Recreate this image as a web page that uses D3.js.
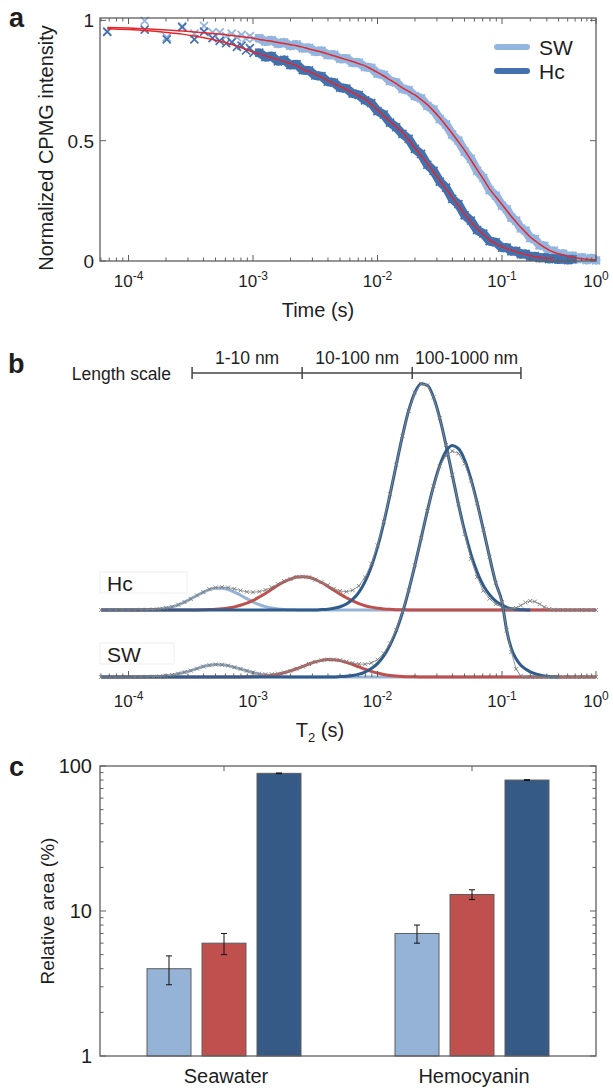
<!DOCTYPE html>
<html><head><meta charset="utf-8">
<script src="https://cdn.jsdelivr.net/npm/d3@7"></script>
<style>
body{margin:0;background:#fff}
svg{display:block}
text{font-family:"Liberation Sans",Arial,sans-serif;fill:#1e1e1e}
</style>
</head><body>
<svg id="chart" width="613" height="1090"></svg>
<script>
// ================= DATA =================
// Panel a: CPMG decays (log10 of time in s)
const decayLogT = [-4.171,-3.870,-3.693,-3.569,-3.471,-3.393,-3.325,-3.268,-3.216,-3.171,-3.129,-3.092,-3.056,-3.025,-2.996,
 -2.95,-2.9,-2.85,-2.8,-2.75,-2.7,-2.65,-2.6,-2.55,-2.5,-2.45,-2.4,-2.35,-2.3,-2.25,-2.2,-2.15,-2.1,-2.05,-2.0,
 -1.95,-1.9,-1.85,-1.8,-1.75,-1.7,-1.65,-1.6,-1.55,-1.5,-1.45,-1.4,-1.35,-1.3,-1.25,-1.2,-1.15,-1.1,-1.05,-1.0,
 -0.95,-0.9,-0.85,-0.8,-0.75,-0.7,-0.65,-0.6,-0.55,-0.5,-0.45,-0.4,-0.35,-0.3,-0.25,-0.2,-0.15,-0.1,-0.05,0];
const swDecay = [.955,.998,.93,.975,.945,.977,.95,.95,.935,.945,.93,.94,.925,.935,.925,
 .926,.912,.918,.903,.909,.894,.9,.884,.886,.87,.874,.856,.858,.84,.842,.824,.825,.806,.803,.779,
 .774,.748,.742,.715,.71,.685,.676,.645,.629,.59,.568,.525,.50,.455,.425,.375,.345,.295,.272,.23,
 .215,.18,.168,.135,.126,.095,.091,.065,.063,.04,.043,.025,.031,.015,.022,.008,.015,.004,.012,.003];
const hcDecay = [.952,.962,.921,.972,.921,.953,.926,.915,.905,.91,.89,.895,.875,.885,.865,
 .866,.847,.852,.83,.836,.814,.818,.793,.792,.771,.768,.745,.742,.72,.717,.696,.69,.668,.656,.623,
 .609,.575,.556,.528,.508,.466,.445,.40,.375,.33,.305,.258,.236,.19,.168,.128,.114,.082,.078,.055,
 .056,.04,.042,.028,.03,.018,.02,.012,.015,.008,.011,.006,.009,.004,.007];
const swFit = [.97,.965,.96,.956,.952,.949,.946,.943,.94,.937,.935,.932,.93,.928,.926,
 .921,.917,.913,.908,.904,.899,.895,.889,.881,.875,.869,.861,.853,.845,.837,.829,.82,.811,.798,.784,
 .769,.753,.737,.72,.705,.69,.671,.65,.624,.595,.563,.53,.495,.46,.42,.38,.34,.30,.267,.235,
 .21,.185,.162,.14,.12,.10,.085,.07,.057,.045,.037,.03,.025,.02,.016,.012,.009,.007,.006,.005];
const hcFit = [.965,.958,.950,.943,.935,.928,.921,.914,.907,.900,.893,.886,.880,.873,.868,
 .861,.853,.845,.837,.829,.821,.812,.797,.787,.776,.764,.75,.738,.725,.713,.70,.686,.673,.652,.628,
 .604,.58,.558,.535,.503,.47,.438,.405,.37,.335,.30,.265,.23,.195,.163,.135,.11,.088,.072,.06,
 .052,.045,.038,.032,.027,.022,.018,.015,.013,.011,.01];
const decayLegend = ["SW","Hc"];
const yTicksA = [0, 0.5, 1];
const yTickLabelsA = ["0", "0.5", "1"];

// Panel b: T2 distributions (log10 T2 grid, amplitudes in a.u.)
const t2LogGrid = [-4.22,-4.15,-4.1,-4.05,-4.0,-3.95,-3.9,-3.85,-3.8,-3.75,-3.7,-3.65,-3.6,-3.55,-3.5,-3.45,-3.4,-3.35,-3.3,-3.25,
 -3.2,-3.15,-3.1,-3.05,-3.0,-2.95,-2.9,-2.85,-2.8,-2.75,-2.7,-2.65,-2.6,-2.55,-2.5,-2.45,-2.4,-2.35,-2.3,-2.25,
 -2.2,-2.15,-2.1,-2.05,-2.0,-1.95,-1.9,-1.85,-1.8,-1.75,-1.7,-1.65,-1.6,-1.55,-1.5,-1.45,-1.4,-1.35,-1.3,-1.25,
 -1.2,-1.15,-1.1,-1.05,-1.0,-0.95,-0.9,-0.85,-0.8,-0.75,-0.7,-0.65,-0.6,-0.55,-0.5,-0.45,-0.4,-0.35,-0.3,-0.25,
 -0.2,-0.15,-0.1,-0.05,0];
const hcT2Data = [0,0,0,0,0,0,.05,.1,.2,.45,.9,1.4,2.3,3.5,4.9,6.45,7.9,9.2,9.9,10.1,
 9.9,9.3,8.6,8.0,7.8,8.1,8.8,10.0,11.4,12.75,13.7,14.55,14.7,14.4,13.4,12.3,10.9,9.4,8.4,8.05,
 8.7,10.6,14.4,20.4,28.5,38.9,51.0,64.0,76.7,87.8,95.8,99.7,99.0,93.7,84.5,72.7,59.6,46.6,33.5,22.5,
 14.5,8.5,5.0,2.6,1.2,.5,.4,.9,2.0,3.3,4.0,3.7,2.6,1.3,.4,.1,0,0,0,0,
 0,0,0,0,0];
const swT2Data = [0,0,0,0,0,0,.03,.07,.13,.26,.5,.86,1.4,2.1,2.8,3.7,4.6,5.2,5.5,5.4,
 5.0,4.3,3.55,2.77,2.04,1.47,1.24,1.22,1.45,1.97,2.71,3.63,4.67,5.72,6.64,7.32,7.67,7.63,7.38,6.82,
 6.18,5.71,5.62,6.2,7.63,10.44,14.81,20.72,28.54,38.22,49.26,61.1,73.1,84.1,92.8,97.5,99.5,98.5,94.0,86.5,
 76.5,65.0,52.9,41.5,33,20.5,11,3.5,.5,0,0,0,0,0,0,0,0,0,0,0,
 0,0,0,0,0];
// fitted components: [log10 T2, amplitude]
const hcComp1 = [[-4.22,0],[-3.95,0],[-3.9,.05],[-3.85,.11],[-3.8,.22],[-3.75,.44],[-3.7,.87],[-3.65,1.4],[-3.6,2.3],[-3.55,3.5],[-3.5,4.9],[-3.45,6.4],[-3.4,7.8],[-3.35,9.0],[-3.3,9.6],[-3.25,9.6],[-3.2,9.0],[-3.15,7.9],[-3.1,6.5],[-3.05,5.0],[-3.0,3.6],[-2.95,2.4],[-2.9,1.5],[-2.85,.9],[-2.8,.48],[-2.75,.25],[-2.7,.12],[-2.65,.05],[-2.6,0],[0,0]];
const hcComp2 = [[-4.22,0],[-3.5,0],[-3.45,.05],[-3.4,.1],[-3.35,.17],[-3.3,.31],[-3.25,.52],[-3.2,.86],[-3.15,1.36],[-3.1,2.07],[-3.05,3.0],[-3.0,4.2],[-2.95,5.7],[-2.9,7.3],[-2.85,9.1],[-2.8,10.9],[-2.75,12.5],[-2.7,13.6],[-2.65,14.5],[-2.6,14.7],[-2.55,14.4],[-2.5,13.4],[-2.45,12.1],[-2.4,10.5],[-2.35,8.7],[-2.3,7.0],[-2.25,5.4],[-2.2,4.0],[-2.15,2.8],[-2.1,1.9],[-2.05,1.26],[-2.0,.79],[-1.95,.48],[-1.9,.28],[-1.85,.15],[-1.8,.09],[-1.75,.03],[-1.7,0],[0,0]];
const hcComp3 = [[-4.22,0],[-2.5,0],[-2.45,.17],[-2.4,.37],[-2.35,.74],[-2.3,1.44],[-2.25,2.65],[-2.2,4.66],[-2.15,7.8],[-2.1,12.5],[-2.05,19.1],[-2.0,27.7],[-1.95,38.4],[-1.9,50.7],[-1.85,63.8],[-1.8,76.6],[-1.75,87.8],[-1.7,95.8],[-1.65,99.7],[-1.6,99.0],[-1.55,93.7],[-1.5,84.5],[-1.45,72.7],[-1.4,59.6],[-1.35,46.6],[-1.3,34.7],[-1.25,24.7],[-1.2,16.7],[-1.15,10.8],[-1.1,6.7],[-1.05,3.9],[-1.0,2.2],[-0.95,1.17],[-0.9,.6],[-0.85,.28],[-0.8,.12],[-0.75,.05],[-0.7,0]];
const swComp1 = [[-4.22,0],[-3.95,0],[-3.9,.03],[-3.85,.07],[-3.8,.13],[-3.75,.26],[-3.7,.5],[-3.65,.86],[-3.6,1.4],[-3.55,2.1],[-3.5,2.8],[-3.45,3.7],[-3.4,4.6],[-3.35,5.2],[-3.3,5.5],[-3.25,5.4],[-3.2,5.0],[-3.15,4.3],[-3.1,3.5],[-3.05,2.7],[-3.0,1.9],[-2.95,1.2],[-2.9,.77],[-2.85,.43],[-2.8,.21],[-2.75,.1],[-2.7,.04],[-2.65,0],[0,0]];
const swComp2 = [[-4.22,0],[-3.15,0],[-3.1,.04],[-3.05,.07],[-3.0,.14],[-2.95,.27],[-2.9,.47],[-2.85,.79],[-2.8,1.24],[-2.75,1.87],[-2.7,2.67],[-2.65,3.63],[-2.6,4.67],[-2.55,5.72],[-2.5,6.64],[-2.45,7.32],[-2.4,7.67],[-2.35,7.63],[-2.3,7.2],[-2.25,6.47],[-2.2,5.51],[-2.15,4.46],[-2.1,3.42],[-2.05,2.5],[-2.0,1.73],[-1.95,1.14],[-1.9,.71],[-1.85,.42],[-1.8,.24],[-1.75,.12],[-1.7,.06],[-1.65,.03],[-1.6,0],[0,0]];
const swComp3 = [[-4.22,0],[-2.35,0],[-2.3,.18],[-2.25,.35],[-2.2,.67],[-2.15,1.25],[-2.1,2.2],[-2.05,3.7],[-2.0,5.9],[-1.95,9.3],[-1.9,14.1],[-1.85,20.3],[-1.8,28.3],[-1.75,38.1],[-1.7,49.2],[-1.65,61.1],[-1.6,73.1],[-1.55,84.1],[-1.5,93.2],[-1.45,99.4],[-1.4,102],[-1.35,100.6],[-1.3,95.6],[-1.25,87.3],[-1.2,76.8],[-1.15,65.0],[-1.1,52.9],[-1.05,41.5],[-1.0,33],[-0.95,20.5],[-0.9,12.5],[-0.85,8.0],[-0.8,5.2],[-0.75,3.5],[-0.7,2.3],[-0.65,1.5],[-0.6,0.9],[-0.55,0.5],[-0.5,0.25],[-0.45,0.1],[-0.4,0]];
const lengthScaleT2 = [3.24e-4, 2.48e-3, 0.019, 0.159];
const lengthScaleLabels = ["1-10 nm", "10-100 nm", "100-1000 nm"];
const t2Traces = ["Hc", "SW"];

// Panel c: relative areas (%)
const samples = ["Seawater", "Hemocyanin"];
const components = ["1-10 nm", "10-100 nm", "100-1000 nm"];
const areaSeawater = [4.0, 6.0, 89];
const errSeawater = [0.9, 1.0, 0.5];
const areaHemocyanin = [7.0, 13.0, 80];
const errHemocyanin = [1.0, 1.0, 0.5];
const yTicksC = [1, 10, 100];

// ================= DRAWING =================
const svg = d3.select("#chart");
const AX = "#5f5f5f";
const cLight = "#95b3d7", cRed = "#c0504d", cDark = "#2f5b8d";
const cSW = "#93b5df", cHc = "#4371ae", cFit = "#e4262c";

const xT = d3.scaleLog().domain([5.9e-5, 0.1, 1]).range([100, 502, 596]);
const isDecade = t => Math.abs(Math.log10(t) - Math.round(Math.log10(t))) < 1e-6;
const pow = l => Math.pow(10, l);

function panelLetter(txt, x, y) {
  svg.append("text").attr("x", x).attr("y", y).attr("font-size", 27)
    .attr("font-weight", "bold").attr("fill", "#000").text(txt);
}
function logXTicks(g, y, dir, majLen, minLen) {
  xT.ticks().forEach(t => {
    const len = isDecade(t) ? majLen : minLen;
    g.append("line").attr("x1", xT(t)).attr("x2", xT(t))
      .attr("y1", y).attr("y2", y + dir * len)
      .attr("stroke", AX).attr("stroke-width", 1);
  });
}
function decadeLabels(g, y) {
  xT.ticks().filter(isDecade).forEach(t => {
    const e = Math.round(Math.log10(t));
    const tx = g.append("text").attr("x", xT(t)).attr("y", y)
      .attr("text-anchor", "middle").attr("font-size", 17);
    tx.append("tspan").text("10");
    tx.append("tspan").attr("dy", -7).attr("font-size", 12).text(String(e));
  });
}

// ---------- Panel a ----------
panelLetter("a", 9, 27);
const gA = svg.append("g");
const yA = d3.scaleLinear().domain([0, 1.01]).range([261, 18]);
const ptsOf = arr => arr.map((v, i) => [pow(decayLogT[i]), v]);
const swPts = ptsOf(swDecay), hcPts = ptsOf(hcDecay);
const lineA = d3.line().x(d => xT(d[0])).y(d => yA(d[1]));

function drawDecay(pts, color) {
  gA.append("path").datum(pts.slice(15)).attr("d", lineA)
    .attr("fill", "none").attr("stroke", color).attr("stroke-width", 9)
    .attr("stroke-linejoin", "round").attr("stroke-linecap", "round");
  gA.selectAll(null).data(pts).enter().append("path")
    .attr("transform", d => `translate(${xT(d[0])},${yA(d[1])})`)
    .attr("d", "M-4,-4L4,4M-4,4L4,-4")
    .attr("stroke", color).attr("stroke-width", 1.7).attr("fill", "none");
}
drawDecay(swPts, cSW);
drawDecay(hcPts, cHc);
[swFit, hcFit].forEach(f => {
  gA.append("path").datum(ptsOf(f)).attr("d", lineA.curve(d3.curveMonotoneX))
    .attr("fill", "none").attr("stroke", cFit).attr("stroke-width", 1.5);
});
// frame and ticks
gA.append("rect").attr("x", 100).attr("y", 18).attr("width", 496).attr("height", 243)
  .attr("fill", "none").attr("stroke", AX).attr("stroke-width", 1.3);
logXTicks(gA, 261, -1, 6, 3.5);
logXTicks(gA, 18, 1, 6, 3.5);
yTicksA.forEach((v, i) => {
  gA.append("line").attr("x1", 100).attr("x2", 106).attr("y1", yA(v)).attr("y2", yA(v)).attr("stroke", AX);
  gA.append("line").attr("x1", 596).attr("x2", 590).attr("y1", yA(v)).attr("y2", yA(v)).attr("stroke", AX);
  gA.append("text").attr("x", 94).attr("y", yA(v) + 7).attr("text-anchor", "end")
    .attr("font-size", 19).text(yTickLabelsA[i]);
});
decadeLabels(gA, 287);
gA.append("text").attr("x", 318).attr("y", 317).attr("text-anchor", "middle")
  .attr("font-size", 20).text("Time (s)");
gA.append("text").attr("transform", "translate(53,148) rotate(-90)")
  .attr("text-anchor", "middle").attr("font-size", 20).text("Normalized CPMG intensity");
// legend
[cSW, cHc].forEach((c, i) => {
  const y = 47 + i * 24;
  gA.append("line").attr("x1", 497).attr("x2", 527).attr("y1", y).attr("y2", y)
    .attr("stroke", c).attr("stroke-width", 6).attr("stroke-linecap", "round");
  gA.append("text").attr("x", 539).attr("y", y + 7.5).attr("font-size", 21).text(decayLegend[i]);
});

// ---------- Panel b ----------
panelLetter("b", 8, 373);
const gB = svg.append("g");
const lsY = 373;
gB.append("line").attr("x1", xT(lengthScaleT2[0])).attr("x2", xT(lengthScaleT2[3]))
  .attr("y1", lsY).attr("y2", lsY).attr("stroke", "#444").attr("stroke-width", 1.5);
lengthScaleT2.forEach(t => {
  gB.append("line").attr("x1", xT(t)).attr("x2", xT(t)).attr("y1", lsY - 6).attr("y2", lsY + 6)
    .attr("stroke", "#444").attr("stroke-width", 1.5);
});
lengthScaleLabels.forEach((s, i) => {
  gB.append("text").attr("x", (xT(lengthScaleT2[i]) + xT(lengthScaleT2[i + 1])) / 2).attr("y", 364)
    .attr("text-anchor", "middle").attr("font-size", 17.5).text(s);
});
gB.append("text").attr("x", 171).attr("y", 380).attr("text-anchor", "end")
  .attr("font-size", 17.5).text("Length scale");

const yHc = d3.scaleLinear().domain([0, 100]).range([610, 383]);
const ySW = d3.scaleLinear().domain([0, 100]).range([677, 450]);
function drawTrace(yS, comps, data, label, boxW, labelY) {
  const ln = d3.line().x(d => xT(pow(d[0]))).y(d => yS(d[1])).curve(d3.curveMonotoneX);
  comps.forEach(([arr, col]) => {
    gB.append("path").datum(arr).attr("d", ln).attr("fill", "none")
      .attr("stroke", col).attr("stroke-width", 3).attr("stroke-linejoin", "round");
  });
  const pts = data.map((v, i) => [t2LogGrid[i], v]);
  gB.append("path").datum(pts).attr("d", d3.line().x(d => xT(pow(d[0]))).y(d => yS(d[1])))
    .attr("fill", "none").attr("stroke", "#8c8c8c").attr("stroke-width", 0.9);
  gB.selectAll(null).data(pts).enter().append("path")
    .attr("transform", d => `translate(${xT(pow(d[0]))},${yS(d[1])})`)
    .attr("d", "M-2,-2L2,2M-2,2L2,-2").attr("stroke", "#7a7a7a").attr("stroke-width", 0.9);
  gB.append("rect").attr("x", 100).attr("y", labelY - 19).attr("width", boxW).attr("height", 21)
    .attr("fill", "#fff").attr("stroke", "#eeeeee");
  gB.append("text").attr("x", 107).attr("y", labelY).attr("font-size", 21).text(label);
}
drawTrace(yHc, [[hcComp1, cLight], [hcComp2, cRed], [hcComp3, cDark]], hcT2Data, t2Traces[0], 87, 591);
drawTrace(ySW, [[swComp1, cLight], [swComp2, cRed], [swComp3, cDark]], swT2Data, t2Traces[1], 74, 662);
logXTicks(gB, 677, -1, 6, 3.5);
decadeLabels(gB, 707);
const t2t = gB.append("text").attr("x", 320).attr("y", 737).attr("text-anchor", "middle").attr("font-size", 20);
t2t.append("tspan").text("T");
t2t.append("tspan").attr("dy", 5).attr("font-size", 13).text("2");
t2t.append("tspan").attr("dy", -5).text(" (s)");

// ---------- Panel c ----------
panelLetter("c", 9, 776);
const gC = svg.append("g");
const yC = d3.scaleLog().domain([1, 100]).range([1056, 766]);
const xC = d3.scaleBand().domain(samples).range([100, 596]);
const xSub = d3.scaleBand().domain(components).range([47, 201]).paddingInner(0.2);
const barColors = [cLight, cRed, "#355a86"];
const barData = [];
samples.forEach((s, si) => {
  const vals = si === 0 ? areaSeawater : areaHemocyanin;
  const errs = si === 0 ? errSeawater : errHemocyanin;
  components.forEach((c, ci) => barData.push({ s, c, ci, v: vals[ci], e: errs[ci] }));
});
gC.selectAll(null).data(barData).enter().append("rect")
  .attr("x", d => xC(d.s) + xSub(d.c)).attr("width", xSub.bandwidth())
  .attr("y", d => yC(d.v)).attr("height", d => yC(1) - yC(d.v))
  .attr("fill", d => barColors[d.ci]).attr("stroke", "#5c5c5c").attr("stroke-width", 1);
barData.forEach(d => {
  const cx = xC(d.s) + xSub(d.c) + xSub.bandwidth() / 2;
  const y1 = yC(d.v + d.e), y2 = yC(d.v - d.e);
  gC.append("line").attr("x1", cx).attr("x2", cx).attr("y1", y1).attr("y2", y2).attr("stroke", "#111").attr("stroke-width", 1);
  [y1, y2].forEach(y => gC.append("line").attr("x1", cx - 3).attr("x2", cx + 3).attr("y1", y).attr("y2", y)
    .attr("stroke", "#111").attr("stroke-width", 1));
});
gC.append("rect").attr("x", 100).attr("y", 766).attr("width", 496).attr("height", 290)
  .attr("fill", "none").attr("stroke", AX).attr("stroke-width", 1.3);
yC.ticks().forEach(t => {
  const len = isDecade(t) ? 6 : 3.5;
  gC.append("line").attr("x1", 100).attr("x2", 100 + len).attr("y1", yC(t)).attr("y2", yC(t)).attr("stroke", AX);
  gC.append("line").attr("x1", 596).attr("x2", 596 - len).attr("y1", yC(t)).attr("y2", yC(t)).attr("stroke", AX);
});
yTicksC.forEach(t => {
  gC.append("text").attr("x", 92).attr("y", yC(t) + 7).attr("text-anchor", "end").attr("font-size", 20).text(String(t));
});
samples.forEach(s => {
  const cx = xC(s) + xC.bandwidth() / 2;
  gC.append("line").attr("x1", cx).attr("x2", cx).attr("y1", 766).attr("y2", 771).attr("stroke", AX);
  gC.append("text").attr("x", cx + 2).attr("y", 1083).attr("text-anchor", "middle").attr("font-size", 20).text(s);
});
gC.append("text").attr("transform", "translate(54,911) rotate(-90)")
  .attr("text-anchor", "middle").attr("font-size", 19).text("Relative area (%)");
</script>
</body></html>
